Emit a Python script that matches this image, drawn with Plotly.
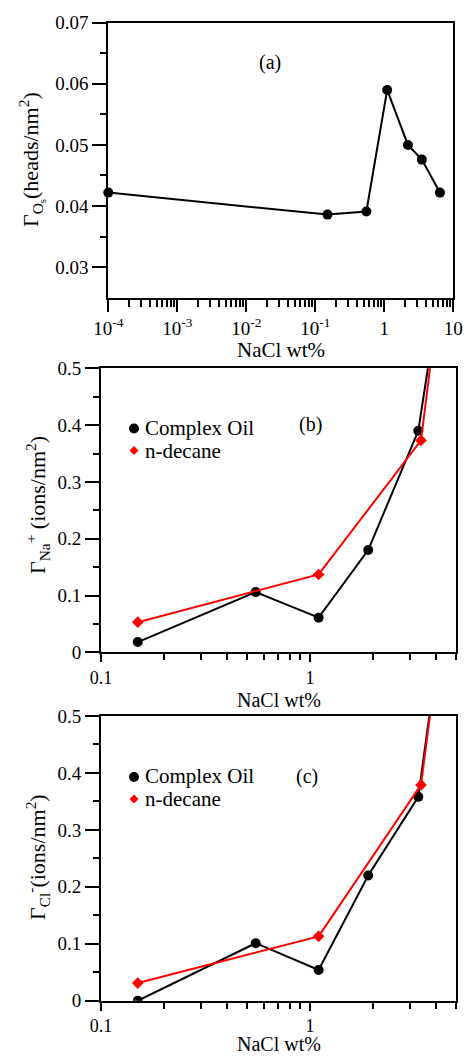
import plotly.graph_objects as go
import numpy as np

# ---- Data ----
conc_a = [1e-4, 0.15, 0.55, 1.1, 2.2, 3.5, 6.4]
gamma_os = [0.0422, 0.0386, 0.0391, 0.0590, 0.0500, 0.0476, 0.0422]

conc_oil = [0.15, 0.55, 1.1, 1.9, 3.3, 6.4]
na_oil = [0.018, 0.106, 0.061, 0.180, 0.390, 1.08]
cl_oil = [0.0, 0.101, 0.054, 0.220, 0.358, 1.13]

conc_decane = [0.15, 1.1, 3.4, 6.4]
na_decane = [0.053, 0.137, 0.373, 1.18]
cl_decane = [0.031, 0.113, 0.379, 1.16]

xticks_a = [1e-4, 1e-3, 1e-2, 1e-1, 1, 10]
xticktext_a = ["10<sup>-4</sup>", "10<sup>-3</sup>", "10<sup>-2</sup>", "10<sup>-1</sup>", "1", "10"]
xticks_bc = [0.1, 1]
xticktext_bc = ["0.1", "1"]

W, H = 464, 1056
FONT = "Liberation Serif, Times New Roman, serif"

fig = go.Figure()

def px(x):
    return x / W

def py(y):
    return 1 - y / H

line_black = dict(color="black", width=2)
line_red = dict(color="#ff0000", width=2)

# panel a
fig.add_trace(go.Scatter(x=conc_a, y=gamma_os, mode="lines+markers",
                         line=line_black, marker=dict(symbol="circle", size=10, color="black"),
                         xaxis="x", yaxis="y", showlegend=False, cliponaxis=False))
# panel b
fig.add_trace(go.Scatter(x=conc_oil, y=na_oil, mode="lines+markers", name="Complex Oil",
                         line=line_black, marker=dict(symbol="circle", size=10, color="black"),
                         xaxis="x2", yaxis="y2", showlegend=False))
fig.add_trace(go.Scatter(x=conc_decane, y=na_decane, mode="lines+markers", name="n-decane",
                         line=line_red, marker=dict(symbol="diamond", size=9, color="#ff0000"),
                         xaxis="x2", yaxis="y2", showlegend=False))
# panel c
fig.add_trace(go.Scatter(x=conc_oil, y=cl_oil, mode="lines+markers", name="Complex Oil",
                         line=line_black, marker=dict(symbol="circle", size=10, color="black"),
                         xaxis="x3", yaxis="y3", showlegend=False))
fig.add_trace(go.Scatter(x=conc_decane, y=cl_decane, mode="lines+markers", name="n-decane",
                         line=line_red, marker=dict(symbol="diamond", size=9, color="#ff0000"),
                         xaxis="x3", yaxis="y3", showlegend=False))

tickfont = dict(family=FONT, size=19, color="black")

def minor_log(lo, hi):
    vals = []
    for d in range(-5, 2):
        for m in range(2, 10):
            v = m * 10.0 ** d
            if lo < v < hi:
                vals.append(v)
    return vals

common = dict(showline=True, linecolor="black", linewidth=2, mirror=True,
              ticks="outside", tickwidth=2, tickcolor="black",
              showgrid=False, zeroline=False, automargin=False)

# domains
dom_a_x = [px(108.3), px(453.3)]
dom_a_y = [py(297.7), py(22.7)]
dom_b_x = [px(101), px(456)]
dom_b_y = [py(652.3), py(368.3)]
dom_c_x = [px(101), px(456)]
dom_c_y = [py(1000.7), py(716)]

def xminor(lo, hi, ln=7):
    return dict(tickmode="array", tickvals=minor_log(lo, hi), ticks="outside",
                ticklen=ln, tickwidth=2, tickcolor="black")

def yminor(vals):
    return dict(tickmode="array", tickvals=vals, ticks="outside",
                ticklen=6, tickwidth=2, tickcolor="black")

fig.update_layout(
    width=W, height=H,
    margin=dict(l=0, r=0, t=0, b=0),
    paper_bgcolor="white", plot_bgcolor="white",
    font=dict(family=FONT, color="black"),
    xaxis=dict(type="log", domain=dom_a_x, anchor="y", range=[-4, 1], ticklen=12,
               tickmode="array", tickvals=xticks_a, ticktext=xticktext_a, tickfont=tickfont,
               minor=xminor(1e-4, 10), **common),
    yaxis=dict(domain=dom_a_y, anchor="x", range=[0.025, 0.07], ticklen=14,
               tickmode="array", tickvals=[0.03, 0.04, 0.05, 0.06, 0.07],
               ticktext=["0.03", "0.04", "0.05", "0.06", "0.07"], tickfont=tickfont,
               minor=yminor([0.035, 0.045, 0.055, 0.065]), **common),
    xaxis2=dict(type="log", domain=dom_b_x, anchor="y2", range=[-1, np.log10(5)], ticklen=8,
                tickmode="array", tickvals=xticks_bc, ticktext=xticktext_bc,
                tickfont=dict(family=FONT, size=18, color="black"),
                minor=xminor(0.1, 5.01, 6), **common),
    yaxis2=dict(domain=dom_b_y, anchor="x2", range=[0, 0.5], ticklen=14,
                tickmode="array", tickvals=[0, 0.1, 0.2, 0.3, 0.4, 0.5],
                ticktext=["0", "0.1", "0.2", "0.3", "0.4", "0.5"], tickfont=tickfont,
                minor=yminor([0.05, 0.15, 0.25, 0.35, 0.45]), **common),
    xaxis3=dict(type="log", domain=dom_c_x, anchor="y3", range=[-1, np.log10(5)], ticklen=8,
                tickmode="array", tickvals=xticks_bc, ticktext=xticktext_bc,
                tickfont=dict(family=FONT, size=18, color="black"),
                minor=xminor(0.1, 5.01, 6), **common),
    yaxis3=dict(domain=dom_c_y, anchor="x3", range=[0, 0.5], ticklen=14,
                tickmode="array", tickvals=[0, 0.1, 0.2, 0.3, 0.4, 0.5],
                ticktext=["0", "0.1", "0.2", "0.3", "0.4", "0.5"], tickfont=tickfont,
                minor=yminor([0.05, 0.15, 0.25, 0.35, 0.45]), **common),
)

ann = []
def text(x, y, t, size=21, angle=0, xanchor="center", yanchor="middle"):
    ann.append(dict(x=px(x), y=py(y), xref="paper", yref="paper", text=t, showarrow=False,
                    font=dict(family=FONT, size=size, color="black"), textangle=angle,
                    xanchor=xanchor, yanchor=yanchor, borderpad=0))

# x titles
text(281, 350, "NaCl wt%")
text(279, 700, "NaCl wt%", size=20)
text(279, 1056, "NaCl wt%", size=20, yanchor="bottom")
# y titles
text(32, 160, "Γ<sub>O<sub>s</sub></sub>(heads/nm<sup>2</sup>)", size=22, angle=-90)
text(37, 505, "Γ<sub>Na</sub><sup>+</sup> (ions/nm<sup>2</sup>)", size=22, angle=-90)
text(37, 857, "Γ<sub>Cl</sub><sup>-</sup>(ions/nm<sup>2</sup>)", size=22, angle=-90)
# panel labels
text(270, 62, "(a)", size=20)
text(310, 424, "(b)", size=20)
text(307, 776, "(c)", size=20)
# legend texts
for lbl_y1, lbl_y2 in [(428, 451), (776, 799)]:
    text(144, lbl_y1, "Complex Oil", size=21, xanchor="left")
    text(144, lbl_y2, "n-decane", size=21, xanchor="left")
fig.update_layout(annotations=ann)

# legend markers
shapes = []
def circle(cx, cy, r, color):
    shapes.append(dict(type="circle", xref="paper", yref="paper",
                       x0=px(cx - r), x1=px(cx + r), y0=py(cy + r), y1=py(cy - r),
                       fillcolor=color, line=dict(width=0)))
def diamond(cx, cy, r, color):
    path = (f"M {px(cx)} {py(cy - r)} L {px(cx + r)} {py(cy)} L {px(cx)} {py(cy + r)} "
            f"L {px(cx - r)} {py(cy)} Z")
    shapes.append(dict(type="path", xref="paper", yref="paper", path=path,
                       fillcolor=color, line=dict(width=0)))

circle(134, 428.5, 5, "black")
diamond(134, 450.5, 4.5, "#ff0000")
circle(134, 777, 5, "black")
diamond(134, 799, 4.5, "#ff0000")
fig.update_layout(shapes=shapes)

fig.write_html("out.html", config={"displayModeBar": False},
               post_script="document.body.style.margin='0px';document.body.style.overflow='hidden';")
